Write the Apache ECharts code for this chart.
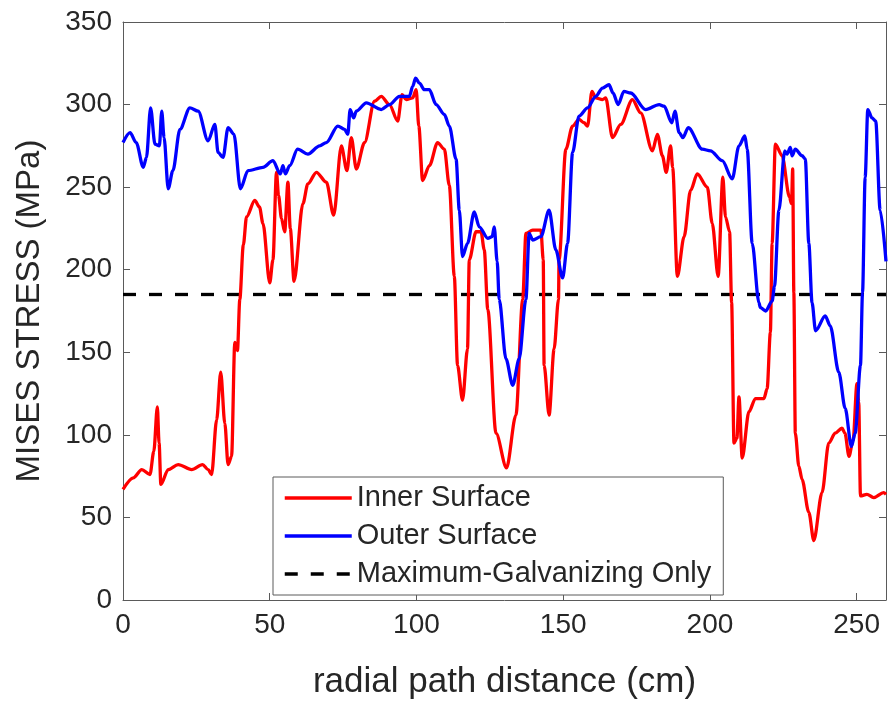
<!DOCTYPE html>
<html>
<head>
<meta charset="utf-8">
<script src="https://cdn.jsdelivr.net/npm/echarts@6/dist/echarts.min.js"></script>
<style>
  html, body { margin: 0; padding: 0; background: #fff; }
  #stress_chart { width: 888px; height: 705px; }
</style>
</head>
<body>
<div id="stress_chart"></div>
<script>
// radial path distance (cm) / Mises stress (MPa)
var inner_surface = [
    [0,67],[3.5,74],[6.4,79],[9.2,76],[10.5,90],[11.7,117],[12.3,95],[12.9,70],[15.4,79],[18.8,82],
    [23.4,79],[27.1,82],[29,79],[30.2,76],[31.9,109],[33.3,138],[34.7,107],[35.8,82],[37,87],[38.1,156],
    [39,151],[39.8,182],[41,215],[42.1,232],[44.9,242],[46.5,238],[47.7,228],[50,192],[51.1,206],[52.3,259],
    [53,245],[54,231],[55.1,223],[56.2,253],[57,225],[58.3,193],[61.3,240],[63,252],[65.9,259],[69.3,253],
    [71.8,233],[74.4,275],[76.3,260],[77.8,280],[79.5,261],[82.3,277],[85.7,302],[88,305],[90.8,300],[93.6,290],
    [95.1,306],[96.5,303],[98.7,304],[99.9,309],[100.8,287],[102.1,254],[104.4,263],[107.2,277],[109.5,273],[111.2,251],
    [112.9,196],[114,142],[115.7,121],[117.4,152],[118,206],[120.3,223],[122,223],[123.1,212],[124.3,176],[127.1,101],
    [130.7,80],[133.9,112],[136.2,182],[137.3,222],[139.6,224],[142.4,224],[143.2,206],[143.5,142],[145.2,112],[146.9,152],
    [148.4,182],[148.6,206],[150.9,273],[153.2,287],[155.4,291],[157.1,289],[158.3,287],[159.8,308],[161.1,304],[163.4,303],
    [164.5,304],[166.8,280],[169.6,288],[173.6,303],[176.4,295],[180.4,272],[182.1,282],[183.8,269],[185.1,259],[186.6,275],
    [187.3,262],[188.9,196],[191.2,220],[193.4,248],[195.7,258],[199.1,250],[200.8,228],[202.8,196],[204.4,256],[205.3,232],
    [206.7,223],[207.4,180],[208.2,95],[209.2,98],[209.9,123],[211,86],[213.3,114],[215.5,122],[218.4,122],[219.5,128],
    [220.6,162],[221.2,216],[222.3,276],[224.6,269],[227.1,244],[227.8,240],[228.2,261],[228.6,186],[229.1,101],[230.3,81],
    [231.4,73],[233.7,53],[235.4,36],[238.2,65],[240.5,95],[242.7,101],[245,104],[246,101],[247.4,87],[248.8,97],
    [250.1,131],[250.7,120],[251.3,63],[253.5,64],[255.8,62],[259.2,65],[260,64]
];
var outer_surface = [
    [0,277],[2.4,283],[4.5,277],[6.9,262],[8,268],[9.4,298],[10.9,276],[12.4,275],[13.2,296],[14,280],
    [15.4,249],[17,260],[19.4,285],[22.8,298],[25.6,296],[29,278],[31.3,288],[32.4,271],[34.1,268],[35.8,286],
    [37.8,282],[40,249],[42.6,260],[47.7,262],[51.1,266],[53.6,258],[54.5,263],[55.3,258],[56.8,263],[59.5,273],
    [63,270],[67,275],[69.3,277],[73.2,287],[75.5,285],[76.6,282],[77.4,297],[78.6,292],[79.5,296],[82.9,301],
    [88,297],[90.8,300],[94.2,305],[97.6,305],[98.7,311],[99.7,316],[101,313],[102.7,309],[104.4,309],[106.7,300],
    [109.5,294],[111.2,287],[113.5,267],[114.6,236],[115.7,208],[117.4,216],[119.7,235],[121.4,226],[124.3,219],[125.8,220],
    [126.5,226],[127.5,205],[128.2,182],[130.5,146],[132.8,130],[135,146],[137.3,182],[138.4,222],[139.6,218],[142.4,220],
    [145.2,236],[147.5,212],[149.8,195],[151.5,216],[153.2,271],[155.4,293],[158.3,298],[161.1,305],[163.4,310],[165.6,312],
    [167,307],[168.7,300],[170.7,308],[173,307],[178.1,297],[182.7,300],[184.4,299],[187,289],[188.1,296],[189.5,283],
    [190.8,280],[192.6,286],[197.4,273],[200.2,272],[204.2,266],[207.6,255],[209.9,275],[211.9,281],[212.7,273],[214.4,216],
    [216.7,180],[217.2,177],[219,175],[221.2,181],[222,190],[223.5,236],[225.5,272],[226.3,270],[227.4,274],[228,269],
    [229.1,273],[231.4,269],[232.5,267],[233.7,216],[234.8,180],[236,163],[239.3,172],[241,166],[243.9,138],[246.1,116],
    [248.2,93],[249.5,101],[251.3,142],[252,186],[252.9,256],[253.8,297],[255.2,292],[256.5,290],[258,236],[260,205]
];
var galvanizing_max = [[0,185],[260,185]];
var series_names = ['Inner Surface','Outer Surface','Maximum-Galvanizing Only'];

var font = "'Liberation Sans', Arial, Helvetica, sans-serif";
var axis_color = '#5a5a5a';
var text_color = '#262626';

function box_axis(show_label, pos, min, max, interval) {
    return {
        type: 'value',
        position: pos,
        min: min,
        max: max,
        interval: interval,
        axisLine: { show: true, onZero: false, lineStyle: { color: axis_color, width: 1 } },
        axisTick: { show: true, inside: true, length: 7, lineStyle: { color: axis_color } },
        axisLabel: {
            show: show_label,
            showMaxLabel: pos == 'bottom' ? false : true,
            color: text_color,
            fontFamily: font,
            fontSize: 28,
            margin: 11
        },
        splitLine: { show: false }
    };
}

var x_bottom = box_axis(true, 'bottom', 0, 260, 50);
x_bottom.name = 'radial path distance (cm)';
x_bottom.nameLocation = 'middle';
x_bottom.nameGap = 65;
x_bottom.nameTextStyle = { color: text_color, fontFamily: font, fontSize: 35 };

var y_left = box_axis(true, 'left', 0, 350, 50);
y_left.name = 'MISES STRESS (MPa)';
y_left.nameLocation = 'middle';
y_left.nameGap = 77;
y_left.nameTextStyle = { color: text_color, fontFamily: font, fontSize: 33 };

var stress_option = {
    animation: false,
    backgroundColor: '#fff',
    grid: { left: 123, right: 2, top: 22, bottom: 104, containLabel: false },
    legend: {
        left: 273,
        top: 477,
        orient: 'vertical',
        data: series_names,
        itemWidth: 67,
        itemHeight: 14,
        itemGap: 8,
        padding: [6, 12, 6, 10],
        borderColor: axis_color,
        borderWidth: 1,
        backgroundColor: '#fff',
        itemStyle: { opacity: 0 },
        lineStyle: { width: 3.5 },
        textStyle: { color: text_color, fontFamily: font, fontSize: 29, lineHeight: 30 }
    },
    xAxis: [x_bottom, box_axis(false, 'top', 0, 260, 50)],
    yAxis: [y_left, box_axis(false, 'right', 0, 350, 50)],
    series: [
        {
            name: series_names[0],
            type: 'line',
            data: inner_surface,
            showSymbol: false,
            symbol: 'none',
            smooth: 0.3,
            smoothMonotone: 'x',
            lineStyle: { color: '#ff0000', width: 3.3 },
            itemStyle: { color: '#ff0000' },
            z: 3
        },
        {
            name: series_names[1],
            type: 'line',
            data: outer_surface,
            showSymbol: false,
            symbol: 'none',
            smooth: 0.3,
            smoothMonotone: 'x',
            lineStyle: { color: '#0000ff', width: 3.3 },
            itemStyle: { color: '#0000ff' },
            z: 4
        },
        {
            name: series_names[2],
            type: 'line',
            data: galvanizing_max,
            showSymbol: false,
            symbol: 'none',
            lineStyle: { color: '#000', width: 3.3, type: [13, 13] },
            itemStyle: { color: '#000' },
            z: 2
        }
    ]
};

var stress_chart = echarts.init(document.getElementById('stress_chart'));
stress_chart.setOption(stress_option);
</script>
</body>
</html>
